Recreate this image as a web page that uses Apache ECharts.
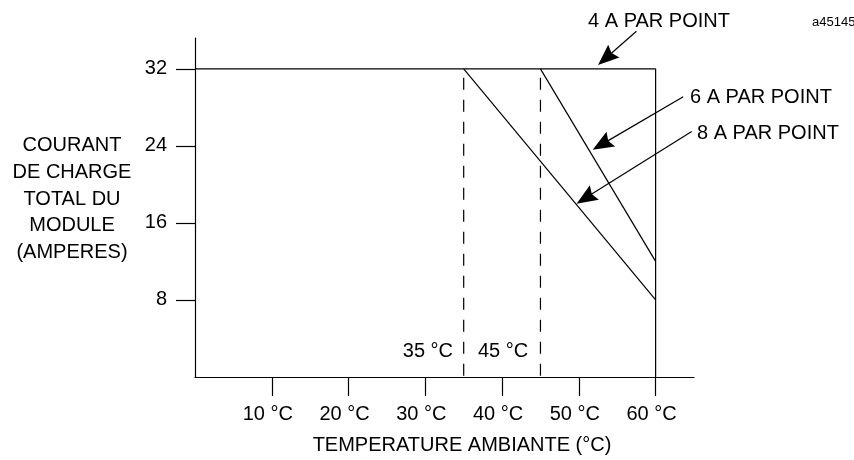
<!DOCTYPE html>
<html>
<head>
<meta charset="utf-8">
<title>Courant de charge total du module</title>
<script src="https://cdn.jsdelivr.net/npm/echarts@6.0.0/dist/echarts.min.js"></script>
<style>
  html, body { margin: 0; padding: 0; background: #fff; }
  #chart { width: 854px; height: 460px; }
</style>
</head>
<body>
<div id="chart"></div>
<script>
// axis ticks
var tempTicks = [10, 20, 30, 40, 50, 60];
var currentTicks = [8, 16, 24, 32];

// derating curves (temperature, amperes)
var line4A = [[0, 32], [60, 32]];
var line6A = [[45, 32], [60, 12]];
var line8A = [[35, 32], [60, 8]];
var limit60 = [[60, 32], [60, 0]];
var knee35 = [[35, 32], [35, 0]];
var knee45 = [[45, 32], [45, 0]];

// callout arrows [from, to]
var arrow4A = [[57.5, 35.9], [52.5, 32.4]];
var arrow6A = [[63.6, 29.1], [51.8, 23.6]];
var arrow8A = [[64.7, 25.5], [49.7, 18.0]];

var FONT = 'Liberation Sans, Arial, sans-serif';
var black = '#000';

var chart = echarts.init(document.getElementById('chart'), null, { renderer: 'canvas' });

function solid(name, data, dashed) {
  return {
    name: name,
    type: 'line',
    data: data,
    symbol: 'none',
    clip: false,
    silent: true,
    animation: false,
    lineStyle: dashed
      ? { color: black, width: 1.2, type: [12, 10], dashOffset: 13 }
      : { color: black, width: 1.2 }
  };
}

// arrow with a filled head at the "to" end
function renderArrow(params, api) {
  var p0 = api.coord([api.value(0), api.value(1)]);
  var p1 = api.coord([api.value(2), api.value(3)]);
  var dx = p1[0] - p0[0], dy = p1[1] - p0[1];
  var len = Math.sqrt(dx * dx + dy * dy) || 1;
  var ux = dx / len, uy = dy / len;
  var nx = -uy, ny = ux;
  var L = 21, W = 8.5;
  var bx = p1[0] - ux * L, by = p1[1] - uy * L;
  return {
    type: 'group',
    children: [
      {
        type: 'line',
        shape: { x1: p0[0], y1: p0[1], x2: bx + ux * 4, y2: by + uy * 4 },
        style: { stroke: black, lineWidth: 1.2 }
      },
      {
        type: 'polygon',
        shape: {
          points: [
            [p1[0], p1[1]],
            [bx + nx * W, by + ny * W],
            [bx + ux * 3, by + uy * 3],
            [bx - nx * W, by - ny * W]
          ]
        },
        style: { fill: black }
      }
    ]
  };
}

var arrowData = [arrow4A, arrow6A, arrow8A].map(function (a) {
  return [a[0][0], a[0][1], a[1][0], a[1][1]];
});

var option = {
  backgroundColor: '#fff',
  animation: false,
  grid: { left: 195, top: 38, right: 160, bottom: 83 },
  xAxis: {
    type: 'value',
    min: 0,
    max: 65,
    interval: 10,
    splitLine: { show: false },
    axisLine: { onZero: true, lineStyle: { color: black, width: 1.2 } },
    axisTick: {
      show: true, inside: false, length: 19,
      customValues: tempTicks,
      lineStyle: { color: black, width: 1.2 }
    },
    axisLabel: {
      customValues: tempTicks,
      margin: 27,
      color: black,
      fontFamily: FONT,
      fontSize: 20,
      padding: [0, 8, 0, 0],
      formatter: function (v) { return v + ' \u00B0C'; }
    }
  },
  yAxis: {
    type: 'value',
    min: 0,
    max: 35.2,
    interval: 8,
    splitLine: { show: false },
    axisLine: { onZero: true, lineStyle: { color: black, width: 1.2 } },
    axisTick: {
      show: true, inside: false, length: 19,
      customValues: currentTicks,
      lineStyle: { color: black, width: 1.2 }
    },
    axisLabel: {
      customValues: currentTicks,
      margin: 28,
      color: black,
      fontFamily: FONT,
      fontSize: 20
    }
  },
  series: [
    solid('4 A', line4A),
    solid('6 A', line6A),
    solid('8 A', line8A),
    solid('60', limit60),
    solid('35', knee35, true),
    solid('45', knee45, true),
    {
      name: 'callouts',
      type: 'custom',
      renderItem: renderArrow,
      data: arrowData,
      encode: { x: [0, 2], y: [1, 3] },
      clip: false,
      silent: true,
      animation: false
    }
  ],
  graphic: [
    {
      type: 'text',
      style: {
        text: 'COURANT\nDE CHARGE\nTOTAL DU\nMODULE\n(AMPERES)',
        x: 72, y: 199, textAlign: 'center', textVerticalAlign: 'middle',
        font: '20px ' + FONT, lineHeight: 26.7, fill: black
      }
    },
    {
      type: 'text',
      style: {
        text: 'TEMPERATURE AMBIANTE (\u00B0C)',
        x: 462, y: 445, textAlign: 'center', textVerticalAlign: 'middle',
        font: '20px ' + FONT, fill: black
      }
    },
    {
      type: 'text',
      style: {
        text: '35 \u00B0C', x: 453, y: 351, textAlign: 'right', textVerticalAlign: 'middle',
        font: '20px ' + FONT, fill: black
      }
    },
    {
      type: 'text',
      style: {
        text: '45 \u00B0C', x: 478, y: 351, textAlign: 'left', textVerticalAlign: 'middle',
        font: '20px ' + FONT, fill: black
      }
    },
    {
      type: 'text',
      style: {
        text: '4 A PAR POINT', x: 659, y: 21, textAlign: 'center', textVerticalAlign: 'middle',
        font: '20px ' + FONT, fill: black
      }
    },
    {
      type: 'text',
      style: {
        text: '6 A PAR POINT', x: 690, y: 97, textAlign: 'left', textVerticalAlign: 'middle',
        font: '20px ' + FONT, fill: black
      }
    },
    {
      type: 'text',
      style: {
        text: '8 A PAR POINT', x: 697, y: 133, textAlign: 'left', textVerticalAlign: 'middle',
        font: '20px ' + FONT, fill: black
      }
    },
    {
      type: 'text',
      style: {
        text: 'a45145', x: 812, y: 22, textAlign: 'left', textVerticalAlign: 'middle',
        font: '13px ' + FONT, fill: black
      }
    }
  ]
};

chart.setOption(option);
</script>
</body>
</html>
